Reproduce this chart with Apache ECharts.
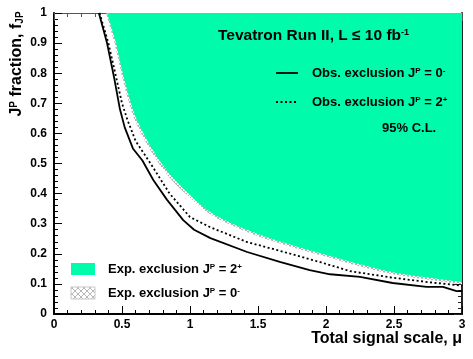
<!DOCTYPE html>
<html lang="en">
<head>
<meta charset="UTF-8">
<title>echarts</title>
<script src="https://cdn.jsdelivr.net/npm/echarts@6/dist/echarts.min.js"></script>
<style>html,body{margin:0;padding:0;background:#fff}</style>
</head>
<body>
<div id="main" style="width:473px;height:359px"></div>
<script type="text/javascript">
// curves: [signal scale mu, J^P fraction]
var expExcl2p = [[0.39,1.0],[0.45,0.91],[0.50,0.81],[0.55,0.725],[0.60,0.655],[0.70,0.565],[0.80,0.495],[0.90,0.44],[1.00,0.395],[1.10,0.355],[1.20,0.325],[1.40,0.283],[1.60,0.25],[1.80,0.222],[2.00,0.197],[2.25,0.165],[2.50,0.138],[2.75,0.121],[3.00,0.106]];
var expExcl0m = [[0.382,1.0],[0.442,0.905],[0.492,0.805],[0.542,0.717],[0.592,0.646],[0.692,0.557],[0.792,0.487],[0.892,0.432],[1.00,0.387],[1.10,0.347],[1.20,0.317],[1.40,0.276],[1.60,0.243],[1.80,0.215],[2.00,0.19],[2.25,0.158],[2.50,0.131],[2.75,0.114],[3.00,0.099]];
var obsExcl0m = [[0.33,1.0],[0.39,0.90],[0.44,0.79],[0.485,0.68],[0.52,0.62],[0.58,0.55],[0.65,0.51],[0.73,0.445],[0.83,0.38],[0.95,0.312],[1.03,0.28],[1.15,0.252],[1.42,0.206],[1.66,0.173],[1.88,0.146],[2.03,0.132],[2.25,0.123],[2.49,0.103],[2.74,0.09],[2.86,0.09],[2.96,0.076],[3.00,0.076]];
var obsExcl2p = [[0.335,1.0],[0.40,0.90],[0.455,0.79],[0.50,0.70],[0.54,0.645],[0.60,0.575],[0.71,0.50],[0.85,0.40],[1.00,0.322],[1.15,0.288],[1.42,0.239],[1.66,0.21],[1.96,0.172],[2.18,0.142],[2.50,0.12],[2.75,0.106],[3.00,0.094]];

var titleText = '{t|Tevatron Run II, L \u2264 10 fb}{ts|-1}';
var legObs0m = '{a|Obs. exclusion J}{s|P}{a| = 0}{s|-}';
var legObs2p = '{a|Obs. exclusion J}{s|P}{a| = 2}{s|+}';
var legCL = '{a|95% C.L.}';
var legExp2p = '{a|Exp. exclusion J}{s|P}{a| = 2}{s|+}';
var legExp0m = '{a|Exp. exclusion J}{s|P}{a| = 0}{s|-}';
var xName = 'Total signal scale, \u03bc';
var yName = '{b|J}{bs|P}{b| fraction, f}{bb|JP}';

var FONT = '"Liberation Sans", Arial, Helvetica, sans-serif';
var GREEN = '#00fbaa';

function makeHatch(n, col) {
    var c = document.createElement('canvas');
    c.width = n; c.height = n;
    var g = c.getContext('2d');
    g.fillStyle = '#ffffff'; g.fillRect(0, 0, n, n);
    g.strokeStyle = col; g.lineWidth = 1;
    g.beginPath();
    g.moveTo(0, 0); g.lineTo(n, n);
    g.moveTo(n, 0); g.lineTo(0, n);
    g.stroke();
    return c;
}
var hatch = makeHatch(4, '#b4b4b4');
var hatchLeg = makeHatch(6, '#b8b8b8');

var rich = {
    a: {fontFamily: FONT, fontWeight: 'bold', fontSize: 13, color: '#000'},
    s: {fontFamily: FONT, fontWeight: 'bold', fontSize: 8, color: '#000', verticalAlign: 'top'},
    t: {fontFamily: FONT, fontWeight: 'bold', fontSize: 15.5, color: '#000'},
    ts: {fontFamily: FONT, fontWeight: 'bold', fontSize: 9, color: '#000', verticalAlign: 'top'},
    b: {fontFamily: FONT, fontWeight: 'bold', fontSize: 16, color: '#000'},
    bs: {fontFamily: FONT, fontWeight: 'bold', fontSize: 10, color: '#000', verticalAlign: 'top'},
    bb: {fontFamily: FONT, fontWeight: 'bold', fontSize: 10, color: '#000', verticalAlign: 'bottom'}
};

function txt(x, y, text, align) {
    return {type: 'text', x: x, y: y, z: 100,
        style: {text: text, rich: rich, align: align || 'left', verticalAlign: 'middle'}};
}

var myChart = echarts.init(document.getElementById('main'));

var tickLbl = {show: true, color: '#000', fontFamily: FONT, fontWeight: 'bold', fontSize: 12};
var option = {
    animation: false,
    backgroundColor: '#fff',
    grid: {left: 54, right: 11, top: 13, bottom: 45},
    xAxis: [{
        type: 'value', min: 0, max: 3, interval: 0.5, position: 'bottom',
        axisLine: {onZero: false, lineStyle: {color: '#000', width: 2}},
        axisTick: {inside: true, length: 8, lineStyle: {color: '#000'}},
        minorTick: {show: true, splitNumber: 5, length: 4, lineStyle: {color: '#000'}},
        axisLabel: Object.assign({margin: 5}, tickLbl),
        splitLine: {show: false}
    }, {
        type: 'value', min: 0, max: 3, interval: 0.5, position: 'top',
        axisLine: {onZero: false, lineStyle: {color: '#555', width: 1}},
        axisTick: {inside: true, length: 8, lineStyle: {color: '#555'}},
        minorTick: {show: true, splitNumber: 5, length: 4, lineStyle: {color: '#555'}},
        axisLabel: {show: false},
        splitLine: {show: false}
    }],
    yAxis: [{
        type: 'value', min: 0, max: 1, interval: 0.1, position: 'left',
        axisLine: {onZero: false, lineStyle: {color: '#000', width: 2}},
        axisTick: {inside: true, length: 8, lineStyle: {color: '#000'}},
        minorTick: {show: true, splitNumber: 5, length: 4, lineStyle: {color: '#000'}},
        axisLabel: Object.assign({margin: 7}, tickLbl),
        splitLine: {show: false}
    }, {
        type: 'value', min: 0, max: 1, interval: 0.1, position: 'right',
        axisLine: {onZero: false, lineStyle: {color: '#222', width: 2}},
        axisTick: {inside: true, length: 8, lineStyle: {color: '#222'}},
        minorTick: {show: true, splitNumber: 5, length: 4, lineStyle: {color: '#222'}},
        axisLabel: {show: false},
        splitLine: {show: false}
    }],
    series: [{
        name: 'Exp. exclusion 0-', type: 'line', data: expExcl0m, symbol: 'none', smooth: 0.3, z: 1,
        lineStyle: {width: 0},
        areaStyle: {color: {image: hatch, repeat: 'repeat'}, origin: 'end', opacity: 1}
    }, {
        name: 'Exp. exclusion 2+', type: 'line', data: expExcl2p, symbol: 'none', smooth: 0.3, z: 2,
        lineStyle: {width: 0},
        areaStyle: {color: GREEN, origin: 'end', opacity: 1}
    }, {
        name: 'Obs. exclusion 0-', type: 'line', data: obsExcl0m, symbol: 'none', z: 3,
        lineStyle: {color: '#000', width: 1.8}
    }, {
        name: 'Obs. exclusion 2+', type: 'line', data: obsExcl2p, symbol: 'none', z: 3,
        lineStyle: {color: '#000', width: 1.8, type: [2, 2.5]}
    }],
    graphic: [
        txt(218, 36, titleText),
        {type: 'line', z: 100, shape: {x1: 276, y1: 73, x2: 298, y2: 73}, style: {stroke: '#000', lineWidth: 1.8}},
        txt(312, 73, legObs0m),
        {type: 'line', z: 100, shape: {x1: 276, y1: 102, x2: 298, y2: 102}, style: {stroke: '#000', lineWidth: 1.8, lineDash: [2, 2.5]}},
        txt(312, 102, legObs2p),
        txt(382, 128, legCL),
        {type: 'rect', z: 100, shape: {x: 71, y: 263, width: 24, height: 12}, style: {fill: GREEN}},
        txt(108, 269, legExp2p),
        {type: 'rect', z: 100, shape: {x: 71, y: 287, width: 24, height: 12}, style: {fill: {image: hatchLeg, repeat: 'repeat'}, stroke: '#c8c8c8', lineWidth: 1}},
        txt(108, 293, legExp0m),
        {type: 'text', z: 100, x: 462, y: 339, style: {text: xName, fill: '#000', font: 'bold 16px ' + FONT, align: 'right', verticalAlign: 'middle'}},
        {type: 'text', z: 100, x: 17, y: 64, rotation: Math.PI / 2,
            style: {text: yName, rich: rich, align: 'center', verticalAlign: 'middle'}}
    ]
};

myChart.setOption(option);
</script>
</body>
</html>
